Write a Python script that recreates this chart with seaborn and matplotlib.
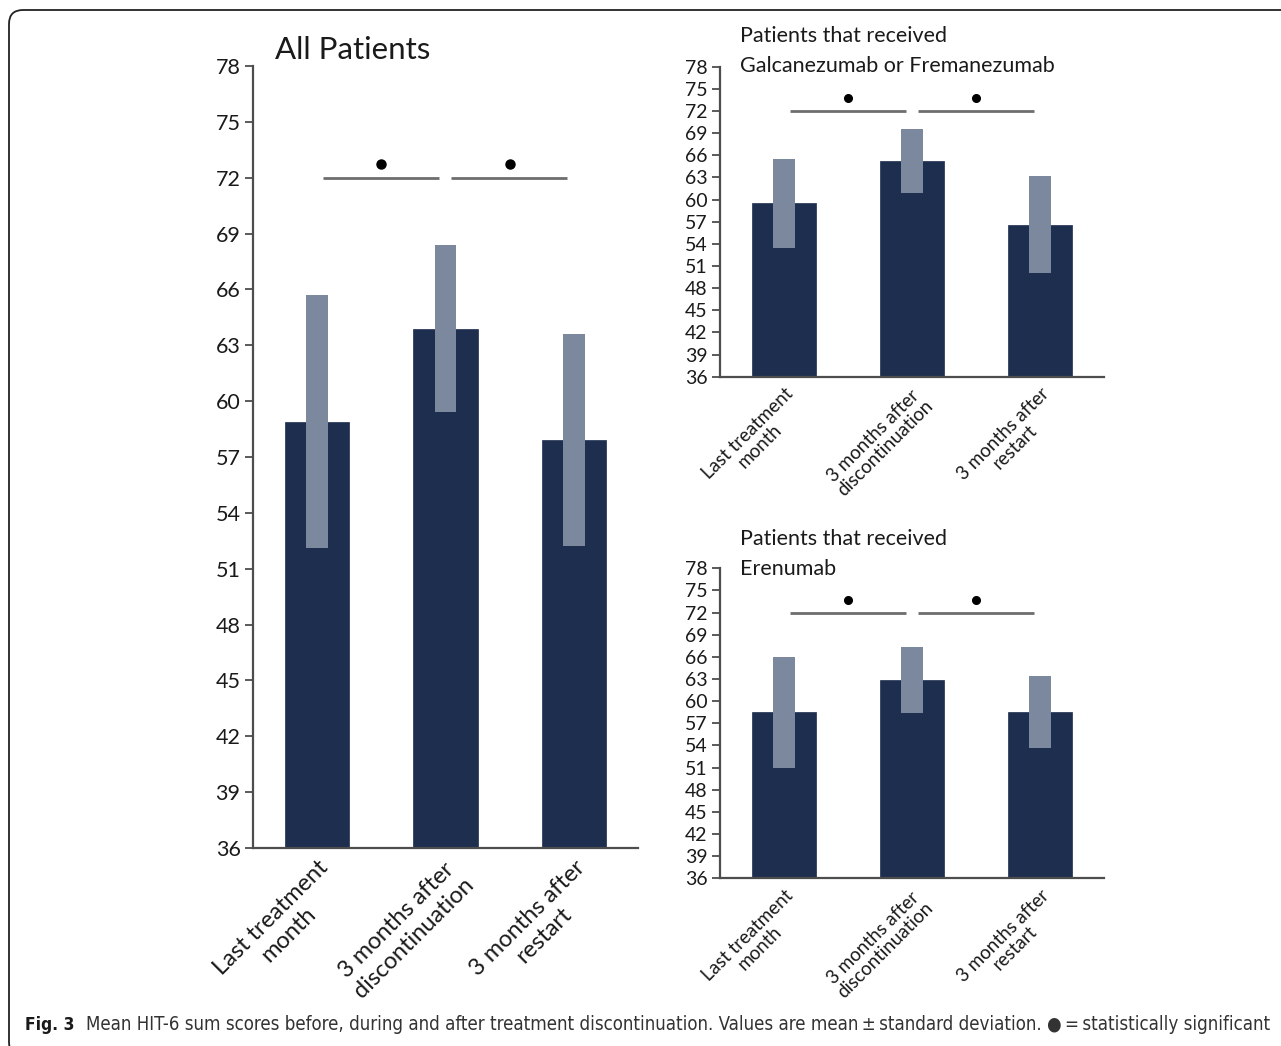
import matplotlib
matplotlib.use("Agg")
import matplotlib.pyplot as plt
import matplotlib.patches as mpatches
import matplotlib.transforms as mtrans
import seaborn as sns
import pandas as pd

# data (mean and SD of HIT-6 sum scores)
categories = ["Last treatment\nmonth", "3 months after\ndiscontinuation", "3 months after\nrestart"]
small_categories = ["Last treatment\nmonth", "3 months after\ndiscontinuation", "3 months after\nrestart"]

all_mean = [58.9, 63.9, 57.9]
all_sd = [6.8, 4.5, 5.7]

galc_mean = [59.5, 65.2, 56.6]
galc_sd = [6.0, 4.3, 6.6]

eren_mean = [58.5, 62.9, 58.5]
eren_sd = [7.5, 4.5, 4.9]

yticks = list(range(36, 79, 3))
sig_pairs = [(0, 1), (1, 2)]

navy = "#1d2e4f"
grey = "#7c889d"
axis_col = "#4d4d4d"

sns.set_style("white")
plt.rcParams["font.family"] = ["Lato", "DejaVu Sans"]

W, H = 1281, 1046
fig = plt.figure(figsize=(W / 100, H / 100), dpi=100)


def px_axes(left, right, top, bottom):
    return fig.add_axes([left / W, 1 - bottom / H, (right - left) / W, (bottom - top) / H])


def panel(ax, means, sds, labels, tick_fs, xlab_fs, dot_ms, main=False):
    df = pd.DataFrame({"cond": labels, "mean": means})
    sns.barplot(data=df, x="cond", y="mean", color=navy, width=0.5, ax=ax,
                saturation=1, edgecolor=navy, linewidth=0.5)
    lows = [m - s for m, s in zip(means, sds)]
    ax.bar(range(len(means)), [2 * s for s in sds], bottom=lows, width=0.17,
           color=grey, edgecolor=grey, linewidth=0, zorder=3)
    # significance markers
    for a, b in sig_pairs:
        ax.plot([a + 0.045, b - 0.05], [72, 72], color="#6e6e6e", lw=2, zorder=4,
                solid_capstyle="butt")
        ax.plot([(a + b) / 2], [72.75 if main else 73.7], "o", color="black",
                ms=dot_ms, zorder=4)
    ax.set_xlim(-0.5, 2.5)
    ax.set_ylim(36, 78)
    ax.set_yticks(yticks)
    ax.set_xlabel("")
    ax.set_ylabel("")
    sns.despine(ax=ax)
    for s in ["left", "bottom"]:
        ax.spines[s].set_color(axis_col)
        ax.spines[s].set_linewidth(1.6)
    ax.tick_params(axis="y", direction="out", length=6, width=1.3, color=axis_col,
                   labelsize=tick_fs, pad=3, left=True)
    if main:
        ax.tick_params(axis="x", direction="in", length=6, width=1.3, color=axis_col,
                       bottom=True, pad=6)
    else:
        ax.tick_params(axis="x", length=0, pad=6)
    ax.set_xticks(range(3))
    ax.set_xticklabels(labels, rotation=45, ha="right", rotation_mode="anchor",
                       multialignment="center", fontsize=xlab_fs, color="#1a1a1a")
    for t in ax.get_yticklabels():
        t.set_color("#1a1a1a")


ax_main = px_axes(253, 638, 66, 848)
panel(ax_main, all_mean, all_sd, categories, 15.5, 17, 6.5, main=True)
for t in ax_main.get_xticklabels():
    t.set_linespacing(1.2)

ax_top = px_axes(720, 1104, 66.7, 376.7)
panel(ax_top, galc_mean, galc_sd, small_categories, 14, 13.5, 5.5)

ax_bot = px_axes(720, 1104, 568.3, 878.3)
panel(ax_bot, eren_mean, eren_sd, small_categories, 14, 13.5, 5.5)
for a in (ax_top, ax_bot):
    for t in a.get_xticklabels():
        t.set_linespacing(1.05)

# titles
fig.text(275 / W, 1 - 50 / H, "All Patients", fontsize=22.5, va="center", color="#1a1a1a")
for y, s in [(36, "Patients that received"), (66, "Galcanezumab or Fremanezumab"),
             (539, "Patients that received"), (569, "Erenumab")]:
    fig.text(740 / W, 1 - y / H, s, fontsize=15.5, va="center", color="#1a1a1a")

# caption
cap_kw = dict(va="center", family=["DejaVu Sans"], stretch="condensed")
fig.text(25 / W, 1 - 1025 / H, "Fig. 3", fontsize=12.5, fontweight="bold",
         color="#1a1a1a", **cap_kw)
cap = fig.text(86 / W, 1 - 1025 / H,
               "Mean HIT-6 sum scores before, during and after treatment discontinuation. "
               "Values are mean\u2009\u00b1\u2009standard deviation. \u25cf\u2009=\u2009statistically significant",
               fontsize=13, color="#333333", **cap_kw)
# scale caption to the width of the reference line
r = fig.canvas.get_renderer()
w = cap.get_window_extent(r).width
cap.set_fontsize(13 * (1274 - 86) / w)

# frame around the figure
frame = mpatches.FancyBboxPatch((9, -10), W + 40, H,
                                boxstyle="round,pad=0,rounding_size=14",
                                transform=mtrans.IdentityTransform(),
                                facecolor="none", edgecolor="#222222", lw=1.3)
fig.patches.append(frame)

fig.savefig("out.png", dpi=100)
